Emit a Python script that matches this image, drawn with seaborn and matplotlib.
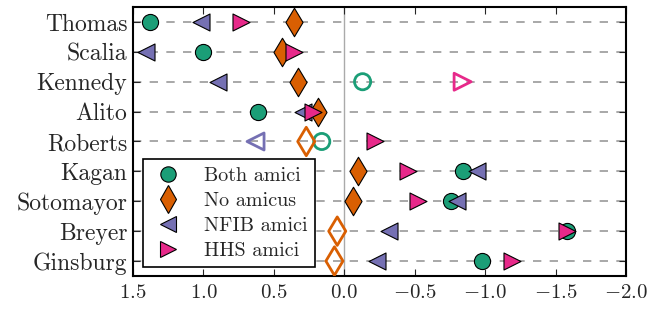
import numpy as np
import pandas as pd
import matplotlib
matplotlib.use('Agg')
import matplotlib.pyplot as plt
import seaborn as sns

# Justices, top to bottom
justices = ['Thomas', 'Scalia', 'Kennedy', 'Alito', 'Roberts',
            'Kagan', 'Sotomayor', 'Breyer', 'Ginsburg']

# Estimated ideal points per condition
both_amici = [1.38, 1.00, -0.13, 0.61, 0.16, -0.84, -0.76, -1.58, -0.98]
no_amicus = [0.36, 0.44, 0.33, 0.19, 0.27, -0.10, -0.06, 0.05, 0.07]
nfib_amici = [1.02, 1.41, 0.90, 0.29, 0.63, -0.94, -0.80, -0.32, -0.23]
hhs_amici = [0.73, 0.36, -0.84, 0.22, -0.22, -0.45, -0.52, -1.58, -1.19]

# filled (True) or hollow (False) marker
both_filled = [True, True, False, True, False, True, True, True, True]
no_filled = [True, True, True, True, False, True, True, False, False]
nfib_filled = [True, True, True, True, False, True, True, True, True]
hhs_filled = [True, True, False, True, True, True, True, True, True]

labels = ['Both amici', 'No amicus', 'NFIB amici', 'HHS amici']
colors = ['#1b9e77', '#d95f02', '#7570b3', '#e7298a']
markers = ['o', 'd', '<', '>']
sizes = [135, 210, 150, 150]

sns.set_style('ticks')
plt.rcParams['font.family'] = ['cmr10', 'DejaVu Serif']
plt.rcParams['mathtext.fontset'] = 'cm'
plt.rcParams['axes.formatter.use_mathtext'] = True

frames = []
for lab, vals, fill in zip(labels, [both_amici, no_amicus, nfib_amici, hhs_amici],
                           [both_filled, no_filled, nfib_filled, hhs_filled]):
    frames.append(pd.DataFrame({'justice': justices, 'pos': np.arange(len(justices)),
                                'score': vals, 'filled': fill, 'group': lab}))
df = pd.concat(frames, ignore_index=True)

fig, ax = plt.subplots(figsize=(6.51, 3.10), dpi=100)
fig.subplots_adjust(left=0.2043, right=0.9616, top=0.9774, bottom=0.1097)

for i, y in enumerate(justices):
    ax.axhline(i, color='#999999', lw=1.2, ls=(0, (5, 5)), zorder=0)
ax.axvline(0, color='#aaaaaa', lw=1.0, zorder=0)

handles = []
for lab, col, mk, s in zip(labels, colors, markers, sizes):
    sub = df[df['group'] == lab]
    full = sub[sub['filled']]
    hollow = sub[~sub['filled']]
    sns.scatterplot(data=full, x='score', y='pos', marker=mk, s=s,
                    color=col, edgecolor='black', linewidth=0.8, ax=ax,
                    zorder=3)
    if len(hollow):
        sns.scatterplot(data=hollow, x='score', y='pos', marker=mk, s=s,
                        facecolor='none', edgecolor=col, linewidth=2.0, ax=ax,
                        zorder=3)
    handles.append(plt.Line2D([], [], ls='none', marker=mk,
                              markersize=np.sqrt(s) * 0.95,
                              markerfacecolor=col, markeredgecolor='black',
                              markeredgewidth=0.8, label=lab))

ax.set_xlim(1.5, -2.0)
ax.set_ylim(8.5, -0.5)
ax.set_xticks([1.5, 1.0, 0.5, 0.0, -0.5, -1.0, -1.5, -2.0])
ax.set_yticks(range(len(justices)))
ax.set_yticklabels(justices, fontsize=17)
ax.set_xlabel('')
ax.set_ylabel('')
ax.tick_params(axis='x', labelsize=15, direction='in', top=True, length=5,
               width=0.8, pad=6)
ax.tick_params(axis='y', direction='in', right=True, length=5, width=0.8, pad=4)
for sp in ax.spines.values():
    sp.set_linewidth(1.5)
    sp.set_color('black')

leg = ax.legend(handles=handles, loc='lower left', bbox_to_anchor=(0.02, 0.033),
                borderaxespad=0, fontsize=14.5, frameon=True, fancybox=False,
                framealpha=1, edgecolor='black', handletextpad=0.9,
                labelspacing=0.35, borderpad=0.35, handlelength=1.8)
leg.get_frame().set_linewidth(1.2)

plt.savefig('out.png', dpi=100)
